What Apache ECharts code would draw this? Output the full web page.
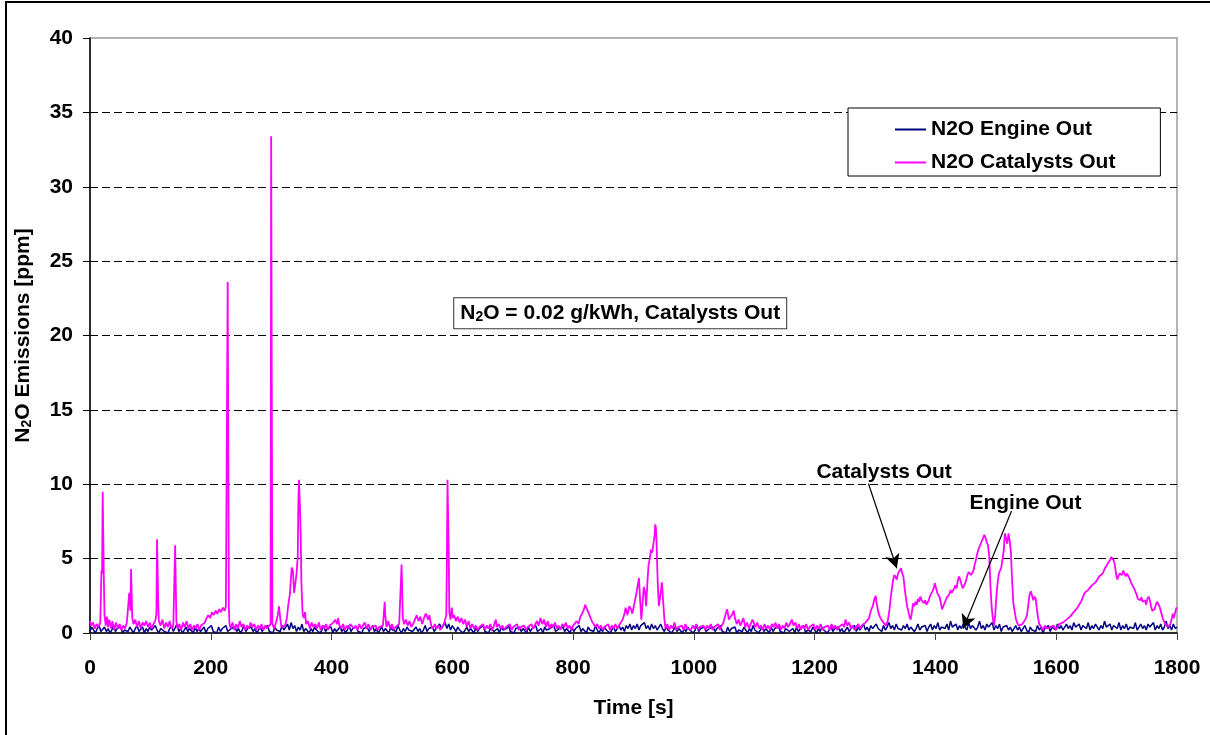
<!DOCTYPE html>
<html>
<head>
<meta charset="utf-8">
<script src="https://cdn.jsdelivr.net/npm/echarts@6/dist/echarts.min.js"></script>
<style>
  html, body { margin: 0; padding: 0; background: #fff; }
  #chart { width: 1210px; height: 735px; }
</style>
</head>
<body>
<div id="chart"></div>
<script>
// N2O downstream of the catalysts, [time s, ppm]
const catalystsOut = [
  [0,0.8],[2,0.5],[5,0.7],[8,0.3],[11,0.6],[14,0.4],[17,0.7],[19,4.2],[20,4.0],[21,9.5],[22,9.4],[23,3.5],[24,1.2],[26,0.5],[28,1.1],
  [30,0.4],[32,0.9],[35,0.3],[37,0.8],[40,0.2],[43,0.7],[46,0.3],[49,0.6],[52,0.2],[55,0.5],[58,0.3],[61,0.7],[63,0.8],[65,2.7],[66,2.8],
  [67,1.5],[68,4.3],[69,4.2],[70,1.0],[72,0.6],[75,0.9],[78,0.4],[81,0.8],[84,0.3],[87,0.7],[90,0.5],[93,0.8],[96,0.4],[99,0.7],[102,0.3],
  [105,0.6],[108,0.8],[110,1.3],[111,6.3],[112,6.2],[113,2.0],[114,0.8],[117,0.5],[120,0.9],[123,0.3],[126,0.7],[129,0.4],[132,0.8],[135,0.3],
  [138,0.5],[140,0.6],[141,5.9],[142,5.8],[143,0.8],[145,0.3],[148,0.6],[151,0.2],[154,0.7],[157,0.4],[160,0.8],[163,0.3],[166,0.6],[169,0.2],
  [172,0.5],[175,0.3],[178,0.6],[181,0.2],[184,0.5],[187,0.4],[190,0.7],[193,1.0],[196,1.2],[199,1.0],[202,1.4],[205,1.2],[208,1.5],[211,1.3],
  [214,1.6],[217,1.4],[220,1.7],[223,1.5],[225,1.8],[227,1.7],[228,23.6],[229,23.5],[230,1.5],[231,0.6],[233,0.3],[236,0.7],[239,0.2],[242,0.6],
  [245,0.3],[248,0.8],[251,0.4],[254,0.6],[257,0.2],[260,0.5],[263,0.3],[266,0.7],[269,0.4],[272,0.6],[275,0.2],[278,0.5],[281,0.3],[284,0.6],
  [287,0.2],[290,0.5],[293,0.3],[296,0.4],[299,0.6],[300,33.4],[301,33.3],[302,0.6],[305,0.3],[308,0.7],[311,1.2],[313,1.8],[315,1.0],[317,0.4],
  [320,0.3],[323,0.5],[326,1.0],[328,1.8],[331,2.6],[333,3.8],[334,4.4],[336,4.2],[338,2.7],[340,3.3],[342,4.0],[344,5.1],[345,8.5],[346,10.3],
  [347,10.2],[348,8.0],[349,6.5],[350,3.5],[352,1.3],[354,1.0],[356,1.4],[358,0.6],[361,0.8],[364,0.3],[367,0.7],[370,0.4],[373,0.6],[376,0.3],
  [379,0.7],[382,0.2],[385,0.5],[388,0.3],[391,0.6],[394,0.2],[397,0.5],[400,0.4],[403,0.7],[406,0.9],[409,0.6],[411,1.0],[413,0.5],[416,0.3],
  [419,0.6],[422,0.2],[425,0.5],[428,0.3],[431,0.6],[434,0.7],[437,0.3],[440,0.5],[443,0.2],[446,0.6],[449,0.3],[452,0.5],[455,0.7],[458,0.3],
  [461,0.6],[464,0.2],[467,0.4],[470,0.3],[473,0.5],[476,0.2],[479,0.4],[482,0.3],[485,0.5],[487,1.5],[488,2.1],[489,1.2],[491,0.4],[494,0.8],
  [497,0.3],[500,0.6],[503,0.2],[506,0.4],[509,0.3],[512,0.6],[515,0.5],[516,4.6],[517,4.5],[518,1.0],[520,0.6],[523,0.9],[526,0.5],[529,0.8],
  [532,0.4],[535,0.6],[538,0.9],[541,1.2],[544,0.8],[547,1.1],[550,0.6],[553,1.0],[556,1.3],[558,1.4],[560,0.9],[562,1.2],[565,0.5],[568,0.3],
  [571,0.6],[574,0.3],[577,0.5],[580,0.2],[583,0.4],[586,0.6],[588,0.9],[590,1.2],[591,5.0],[592,10.3],[593,10.2],[594,5.5],[595,1.4],[597,0.9],
  [599,1.7],[601,1.0],[603,1.2],[606,0.8],[609,1.1],[612,0.7],[615,1.0],[618,0.6],[621,0.9],[624,0.4],[627,0.8],[630,0.3],[633,0.6],[636,0.3],
  [639,0.5],[642,0.2],[645,0.4],[648,0.3],[651,0.6],[654,0.2],[657,0.5],[660,0.3],[663,0.6],[666,0.2],[669,0.5],[672,0.9],[674,0.4],[677,0.6],
  [680,0.3],[683,0.5],[686,0.2],[689,0.4],[692,0.3],[695,0.6],[698,0.2],[701,0.4],[704,0.3],[707,0.6],[710,0.2],[713,0.4],[716,0.3],[719,0.5],
  [722,0.2],[725,0.4],[728,0.3],[731,0.6],[734,0.3],[737,0.4],[740,0.8],[743,0.5],[746,1.0],[749,0.6],[752,0.9],[755,0.4],[758,0.8],[761,0.3],
  [764,0.6],[767,0.4],[770,0.7],[773,0.3],[776,0.5],[779,0.2],[782,0.6],[785,0.4],[788,0.7],[791,0.3],[794,0.5],[797,0.2],[800,0.5],[803,0.4],
  [806,0.8],[809,0.6],[812,1.1],[815,1.3],[818,1.6],[820,1.9],[822,1.7],[825,1.4],[828,1.1],[831,0.8],[834,0.9],[837,0.4],[840,0.6],[843,0.3],
  [846,0.5],[849,0.2],[852,0.4],[855,0.3],[858,0.6],[861,0.2],[864,0.5],[867,0.3],[870,0.6],[873,0.3],[876,0.5],[879,0.6],[882,0.9],[885,1.3],
  [887,1.7],[890,1.2],[893,1.8],[896,1.6],[898,1.3],[901,1.9],[903,2.3],[905,2.7],[907,3.2],[909,3.7],[911,2.2],[913,0.9],[915,2.0],[917,3.1],
  [919,2.8],[921,1.8],[923,3.4],[925,4.6],[927,5.0],[929,5.6],[931,5.4],[933,6.0],[935,6.6],[936,7.3],[937,7.1],[938,6.3],[940,3.5],[942,1.8],
  [944,2.4],[946,3.0],[947,3.4],[949,2.2],[951,1.0],[953,0.3],[956,0.6],[959,0.2],[962,0.5],[965,0.3],[968,0.7],[971,0.2],[974,0.4],[977,0.3],
  [980,0.5],[983,0.2],[986,0.6],[989,0.3],[992,0.4],[995,0.2],[998,0.5],[1001,0.3],[1004,0.6],[1007,0.2],[1010,0.4],[1013,0.3],[1016,0.5],[1019,0.2],
  [1022,0.5],[1025,0.3],[1028,0.6],[1031,0.2],[1034,0.4],[1037,0.3],[1040,0.6],[1043,0.2],[1046,0.5],[1049,0.7],[1052,1.2],[1055,1.6],[1058,0.9],[1061,1.1],
  [1064,1.3],[1066,1.5],[1068,1.0],[1071,0.6],[1074,0.9],[1077,0.5],[1080,0.8],[1082,1.0],[1085,0.4],[1088,0.7],[1091,0.3],[1094,0.6],[1097,0.9],[1099,1.0],
  [1102,0.4],[1105,0.7],[1108,0.3],[1111,0.5],[1114,0.2],[1117,0.6],[1120,0.3],[1123,0.5],[1126,0.2],[1129,0.6],[1132,0.4],[1135,0.7],[1138,0.3],[1141,0.6],
  [1144,0.2],[1147,0.5],[1150,0.3],[1153,0.7],[1156,0.4],[1159,0.6],[1162,0.9],[1165,0.5],[1168,0.7],[1171,0.3],[1174,0.6],[1177,0.2],[1180,0.5],[1183,0.3],
  [1186,0.6],[1189,0.2],[1192,0.4],[1195,0.3],[1198,0.6],[1201,0.2],[1204,0.5],[1207,0.3],[1210,0.6],[1213,0.2],[1216,0.4],[1219,0.3],[1222,0.5],[1225,0.2],
  [1228,0.6],[1231,0.3],[1234,0.5],[1237,0.2],[1240,0.4],[1243,0.3],[1246,0.6],[1249,0.4],[1251,0.9],[1254,0.5],[1257,0.7],[1260,0.3],[1263,0.5],[1266,0.2],
  [1269,0.4],[1272,0.6],[1275,0.3],[1278,0.5],[1281,0.4],[1284,0.7],[1287,0.6],[1290,1.0],[1293,1.5],[1296,1.8],[1299,2.3],[1301,2.5],[1303,1.9],[1306,1.3],
  [1309,1.0],[1312,0.8],[1315,0.7],[1318,0.5],[1321,0.8],[1324,1.6],[1326,2.4],[1328,3.0],[1330,3.6],[1332,3.9],[1334,3.8],[1336,3.6],[1338,4.0],[1341,4.2],
  [1343,4.35],[1345,4.0],[1347,3.8],[1349,3.0],[1351,2.4],[1353,1.8],[1355,1.5],[1357,1.1],[1359,0.9],[1361,1.4],[1363,2.0],[1365,1.8],[1367,2.1],[1369,1.9],
  [1371,2.3],[1373,2.1],[1375,2.45],[1377,2.2],[1379,2.3],[1381,2.0],[1383,2.2],[1385,1.9],[1387,1.9],[1389,2.2],[1391,2.5],[1393,2.6],[1395,2.8],[1397,3.0],
  [1399,3.35],[1401,3.3],[1403,2.7],[1405,2.8],[1407,2.4],[1409,2.0],[1411,1.6],[1413,1.8],[1415,2.0],[1417,2.2],[1419,2.4],[1421,2.3],[1423,2.6],[1425,2.9],
  [1427,2.7],[1429,2.8],[1431,3.0],[1433,3.2],[1435,3.0],[1437,3.5],[1439,3.8],[1441,3.6],[1443,3.3],[1445,3.0],[1447,2.9],[1449,3.3],[1451,3.6],[1453,3.9],
  [1455,4.1],[1457,4.0],[1459,3.9],[1461,3.8],[1463,4.2],[1465,4.6],[1467,4.9],[1469,5.3],[1471,5.6],[1473,5.8],[1475,6.0],[1477,6.2],[1479,6.4],[1481,6.6],
  [1483,6.4],[1485,6.1],[1487,5.9],[1489,5.2],[1491,3.2],[1493,1.8],[1495,1.0],[1497,0.5],[1499,1.2],[1501,2.5],[1503,3.4],[1505,4.0],[1507,4.2],[1509,4.4],
  [1511,4.5],[1513,5.5],[1515,6.7],[1517,6.8],[1519,6.0],[1521,6.7],[1523,6.2],[1525,5.4],[1527,3.5],[1529,2.0],[1531,1.5],[1533,1.0],[1535,0.7],[1538,0.5],
  [1541,0.4],[1544,0.6],[1547,0.8],[1550,1.0],[1552,1.3],[1554,2.0],[1556,2.6],[1558,2.8],[1560,2.5],[1562,2.2],[1564,2.45],[1566,2.3],[1568,1.6],[1570,1.0],
  [1572,0.6],[1575,0.4],[1578,0.2],[1581,0.5],[1584,0.3],[1587,0.2],[1590,0.4],[1593,0.3],[1596,0.5],[1599,0.2],[1602,0.4],[1605,0.6],[1608,0.5],[1611,0.7],
  [1614,0.6],[1617,0.9],[1620,0.8],[1623,1.1],[1626,1.2],[1629,1.4],[1632,1.5],[1635,1.7],[1638,1.9],[1641,2.1],[1644,2.4],[1647,2.7],[1650,2.6],[1653,2.9],
  [1656,3.0],[1659,3.2],[1662,3.1],[1665,3.4],[1668,3.6],[1671,3.8],[1674,3.7],[1677,4.0],[1680,4.3],[1683,4.5],[1686,4.7],[1689,4.9],[1691,5.1],[1693,5.0],
  [1695,4.9],[1697,4.6],[1699,4.0],[1701,3.6],[1703,3.8],[1705,4.0],[1707,4.1],[1709,3.9],[1711,4.2],[1713,4.0],[1715,3.8],[1717,4.0],[1719,3.9],[1721,3.7],
  [1723,3.5],[1725,3.3],[1727,3.4],[1729,3.0],[1731,2.8],[1733,2.6],[1735,2.3],[1737,2.4],[1739,2.2],[1741,2.4],[1743,2.1],[1745,2.0],[1747,2.2],[1749,1.9],
  [1751,2.3],[1753,2.45],[1755,2.2],[1757,1.8],[1759,1.5],[1761,1.4],[1763,1.6],[1765,1.9],[1767,2.1],[1769,2.2],[1771,1.8],[1773,1.5],[1775,1.2],[1777,0.9],
  [1779,0.9],[1781,0.6],[1783,0.5],[1785,0.4],[1787,0.4],[1789,0.6],[1791,0.9],[1793,1.3],[1795,1.0],[1797,1.4],[1799,1.7],[1800,1.6]
];

// N2O upstream of the catalysts, one reading every engineStep seconds (30 readings per row)
const engineStep = 3;
const engineOut = [
  0.1,0.4,0.2,0.0,0.3,0.5,0.1,0.2,0.4,0.1,0.3,0.0,0.2,0.5,0.1,0.3,0.2,0.4,0.0,0.2,0.3,0.1,0.4,0.2,0.0,0.3,0.5,0.1,0.2,0.4,
  0.0,0.3,0.1,0.4,0.2,0.1,0.5,0.2,0.0,0.3,0.4,0.1,0.2,0.0,0.3,0.5,0.1,0.2,0.6,0.1,0.3,0.0,0.2,0.4,0.1,0.3,0.2,0.0,0.4,0.1,
  0.3,0.1,0.2,0.4,0.0,0.3,0.2,0.5,0.1,0.2,0.0,0.4,0.1,0.3,0.2,0.5,0.1,0.0,0.3,0.2,0.4,0.1,0.3,0.0,0.2,0.5,0.1,0.3,0.2,0.4,
  0.1,0.3,0.0,0.2,0.4,0.1,0.3,0.2,0.5,0.1,0.2,0.0,0.4,0.2,0.3,0.1,0.5,0.2,0.4,0.6,0.2,0.7,0.3,0.5,0.1,0.4,0.2,0.6,0.1,0.3,
  0.2,0.0,0.3,0.1,0.4,0.2,0.3,0.0,0.2,0.5,0.1,0.3,0.2,0.4,0.0,0.3,0.1,0.2,0.4,0.1,0.3,0.0,0.2,0.5,0.1,0.3,0.2,0.4,0.1,0.2,
  0.0,0.3,0.2,0.4,0.1,0.2,0.5,0.1,0.3,0.0,0.2,0.4,0.1,0.3,0.2,0.0,0.4,0.2,0.3,0.1,0.5,0.2,0.0,0.3,0.1,0.4,0.2,0.3,0.1,0.2,
  0.4,0.1,0.3,0.0,0.2,0.5,0.1,0.3,0.2,0.4,0.1,0.3,0.2,0.6,0.3,0.5,0.7,0.3,0.6,0.2,0.5,0.3,0.1,0.4,0.2,0.3,0.0,0.2,0.4,0.1,
  0.3,0.2,0.0,0.4,0.1,0.3,0.2,0.5,0.1,0.2,0.0,0.3,0.4,0.1,0.2,0.3,0.0,0.4,0.2,0.1,0.3,0.5,0.1,0.2,0.0,0.3,0.2,0.4,0.1,0.3,
  0.2,0.0,0.4,0.1,0.3,0.2,0.5,0.1,0.2,0.3,0.0,0.4,0.2,0.1,0.3,0.2,0.5,0.1,0.0,0.3,0.2,0.4,0.1,0.3,0.2,0.0,0.4,0.1,0.3,0.2,
  0.5,0.1,0.3,0.2,0.0,0.4,0.2,0.3,0.1,0.5,0.2,0.0,0.3,0.1,0.4,0.2,0.3,0.0,0.2,0.4,0.1,0.3,0.5,0.2,0.4,0.1,0.5,0.3,0.6,0.2,
  0.5,0.3,0.6,0.2,0.5,0.4,0.7,0.3,0.5,0.2,0.6,0.3,0.5,0.2,0.4,0.6,0.3,0.1,0.4,0.2,0.3,0.0,0.2,0.4,0.1,0.3,0.2,0.0,0.3,0.1,
  0.4,0.2,0.3,0.0,0.2,0.5,0.1,0.3,0.2,0.4,0.1,0.0,0.3,0.2,0.4,0.1,0.3,0.2,0.5,0.1,0.2,0.0,0.4,0.1,0.3,0.2,0.4,0.0,0.2,0.3,
  0.1,0.4,0.2,0.0,0.3,0.1,0.5,0.2,0.3,0.0,0.2,0.4,0.1,0.3,0.2,0.0,0.4,0.1,0.3,0.2,0.5,0.1,0.2,0.0,0.3,0.4,0.1,0.2,0.3,0.0,
  0.4,0.1,0.3,0.2,0.5,0.0,0.2,0.3,0.1,0.4,0.2,0.0,0.3,0.1,0.4,0.2,0.3,0.0,0.2,0.5,0.1,0.3,0.2,0.4,0.1,0.3,0.0,0.2,0.4,0.1,
  0.3,0.2,0.5,0.1,0.4,0.2,0.3,0.6,0.2,0.4,0.1,0.5,0.3,0.2,0.6,0.3,0.4,0.1,0.5,0.2,0.4,0.7,0.3,0.5,0.2,0.6,0.3,0.4,0.2,0.5,
  0.3,0.6,0.2,0.4,0.5,0.1,0.3,0.6,0.2,0.4,0.3,0.5,0.1,0.4,0.6,0.2,0.5,0.3,0.7,0.2,0.4,0.5,0.3,0.6,0.2,0.8,0.4,0.3,0.6,0.2,
  0.5,0.3,0.6,0.4,0.2,0.7,0.3,0.5,0.6,0.2,0.4,0.8,0.3,0.5,0.2,0.6,0.4,0.3,0.7,0.2,0.5,0.3,0.6,0.1,0.4,0.3,0.5,0.2,0.4,0.1,
  0.3,0.5,0.2,0.4,0.1,0.3,0.5,0.2,0.0,0.4,0.2,0.3,0.1,0.5,0.2,0.4,0.0,0.3,0.2,0.5,0.1,0.4,0.3,0.2,0.6,0.3,0.5,0.2,0.4,0.6,
  0.3,0.5,0.2,0.7,0.4,0.3,0.6,0.2,0.5,0.4,0.3,0.7,0.2,0.5,0.3,0.6,0.4,0.2,0.5,0.3,0.8,0.4,0.3,0.6,0.2,0.5,0.4,0.3,0.7,0.2,
  0.5,0.3,0.6,0.2,0.4,0.5,0.3,0.7,0.2,0.4,0.6,0.3,0.5,0.2,0.6,0.4,0.3,0.7,0.2,0.5,0.3,0.6,0.2,0.4,0.8,0.3,0.5,0.2,0.6,0.3,
  0.4
];

const seriesNames = ['N2O Engine Out', 'N2O Catalysts Out'];
const seriesColors = ['#000080', '#FF00FF'];
const xTicks = { min: 0, max: 1800, step: 200 };
const yTicks = { min: 0, max: 40, step: 5 };

// callouts, placed in data units [time s, ppm]
const summaryText = { at: [878, 21.5], text: '{n|N}{s|2}{n|O = 0.02 g/kWh, Catalysts Out}' };
const calloutLabels = [
  { at: [1315, 10.8], text: 'Catalysts Out' },
  { at: [1549, 8.75], text: 'Engine Out' }
];
const calloutArrows = [
  { from: [1289, 10.05], to: [1336, 4.35] },
  { from: [1526, 8.2], to: [1446, 0.3] }
];

const FONT = 'Liberation Sans, Arial, sans-serif';
const boldText = { fontFamily: FONT, fontWeight: 'bold', fontSize: 21, color: '#000' };

const chart = echarts.init(document.getElementById('chart'), null, { renderer: 'canvas' });

chart.setOption({
  animation: false,
  backgroundColor: '#fff',
  graphic: [{
    type: 'polyline',
    shape: { points: [[6, 735], [6, 2], [1210, 2]] },
    style: { stroke: '#000', lineWidth: 2, fill: null }
  }],
  grid: {
    left: 90, right: 33, top: 38, bottom: 102,
    show: true, borderColor: '#999', borderWidth: 1.5, backgroundColor: 'transparent'
  },
  legend: {
    orient: 'vertical',
    left: 848, top: 108,
    padding: [11, 45, 3, 47],
    itemGap: 12,
    itemWidth: 31, itemHeight: 2,
    icon: 'rect',
    backgroundColor: '#fff',
    borderColor: '#000', borderWidth: 1,
    textStyle: Object.assign({}, boldText),
    data: seriesNames
  },
  xAxis: {
    type: 'value',
    min: xTicks.min, max: xTicks.max, interval: xTicks.step,
    axisLine: { show: true, onZero: false, lineStyle: { color: '#000', width: 1.5 } },
    axisTick: { show: true, length: 7, lineStyle: { color: '#444' } },
    axisLabel: Object.assign({ margin: 25, formatter: v => String(v) }, boldText),
    splitLine: { show: false },
    name: 'Time [s]',
    nameLocation: 'middle',
    nameGap: 65,
    nameTextStyle: Object.assign({}, boldText)
  },
  yAxis: {
    type: 'value',
    min: yTicks.min, max: yTicks.max, interval: yTicks.step,
    axisLine: { show: true, lineStyle: { color: '#000', width: 1.5 } },
    axisTick: { show: true, length: 7, lineStyle: { color: '#000' } },
    axisLabel: Object.assign({ margin: 17, formatter: v => String(v) }, boldText),
    splitLine: {
      show: true, showMinLine: false, showMaxLine: false,
      lineStyle: { color: '#000', width: 1, type: [8, 4] }
    },
    name: '{n|N}{s|2}{n|O Emissions [ppm]}',
    nameLocation: 'middle',
    nameGap: 56,
    nameTextStyle: {
      rich: {
        n: Object.assign({}, boldText),
        s: Object.assign({}, boldText, { fontSize: 14, verticalAlign: 'bottom' })
      }
    }
  },
  series: [
    {
      name: seriesNames[0],
      type: 'line',
      data: engineOut.map((v, i) => [i * engineStep, v]),
      showSymbol: false,
      sampling: 'none',
      color: seriesColors[0],
      lineStyle: { color: seriesColors[0], width: 1.5 },
      z: 2
    },
    {
      name: seriesNames[1],
      type: 'line',
      data: catalystsOut,
      showSymbol: false,
      sampling: 'none',
      color: seriesColors[1],
      lineStyle: { color: seriesColors[1], width: 1.8 },
      z: 3,
      markLine: {
        silent: true,
        symbol: ['none', 'arrow'],
        symbolSize: [11, 14],
        lineStyle: { color: '#000', width: 1.2, type: 'solid' },
        itemStyle: { color: '#000' },
        label: { show: false },
        emphasis: { disabled: true },
        data: calloutArrows.map(a => [{ coord: a.from }, { coord: a.to }])
      },
      markPoint: {
        silent: true,
        symbol: 'rect',
        symbolSize: 1,
        itemStyle: { color: 'rgba(0,0,0,0)' },
        data: [
          {
            coord: summaryText.at,
            label: {
              show: true, position: 'inside',
              formatter: summaryText.text,
              backgroundColor: '#fff',
              borderColor: '#333', borderWidth: 1,
              padding: [5, 6, 4, 6],
              rich: {
                n: Object.assign({}, boldText),
                s: Object.assign({}, boldText, { fontSize: 14, verticalAlign: 'bottom' })
              }
            }
          }
        ].concat(calloutLabels.map(c => ({
          coord: c.at,
          label: Object.assign({ show: true, position: 'inside', formatter: c.text }, boldText)
        })))
      }
    }
  ]
});
</script>
</body>
</html>
